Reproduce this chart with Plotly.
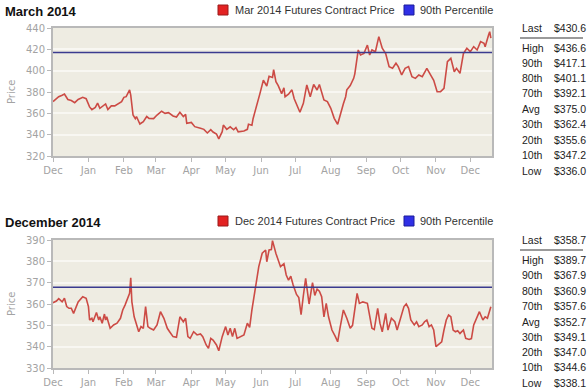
import pandas as pd
import plotly.graph_objects as go

W, H = 587, 391
BASE = pd.Timestamp("2013-12-01")

# ---- data: days since 2013-12-01 and futures prices ----
mar_days = [0, 5, 8, 10, 13, 16, 19, 22, 26, 29,
            32, 34, 37, 39, 41, 44, 46, 48, 51, 54,
            57, 60, 62, 64, 67, 68, 70, 72, 73, 76,
            79, 82, 84, 88, 91, 95, 98, 101, 105, 108,
            111, 114, 116, 117, 121, 124, 129, 132, 135, 138,
            140, 143, 145, 148, 149, 152, 155, 158, 160, 162,
            167, 170, 171, 174, 175, 178, 181, 184, 187, 189,
            192, 193, 195, 197, 200, 202, 203, 206, 209, 211,
            213, 216, 219, 222, 225, 228, 231, 233, 237, 240,
            243, 246, 249, 251, 254, 256, 257, 260, 263, 264,
            267, 269, 272, 275, 277, 279, 282, 285, 288, 291,
            294, 297, 300, 302, 305, 308, 311, 314, 317, 320,
            323, 327, 330, 333, 336, 339, 342, 345, 348, 351,
            353, 356, 359, 362, 365, 368, 371, 374, 377, 378,
            381, 382, 383]
mar_price = [371, 375.6, 377, 378, 373, 372, 370, 373, 375, 373.7,
             366, 363.5, 365.6, 369.5, 364.7, 367, 368.8, 363.5, 367, 367,
             368.8, 371, 375, 375.6, 382, 377, 358.4, 355, 357, 350,
             352.2, 357, 355.3, 355, 358.4, 362, 360, 360.6, 357.5, 356.5,
             361, 357, 359, 350.6, 351.5, 347.5, 346, 345, 341.6, 344.7,
             342.5, 340.6, 336.0, 342.8, 349, 345, 347.3, 344.6, 346.7, 342.6,
             343.5, 345, 349.7, 348.8, 355, 366, 378.5, 391, 385.6, 394.7,
             393.7, 401, 389.7, 386, 378.5, 384, 375.6, 378, 382, 373.7,
             368, 361, 369.4, 386.6, 375.6, 387, 381.9, 387, 372.5, 371,
             364.7, 355.3, 349.7, 358.4, 369, 375.6, 382, 386, 392.8, 397,
             419.4, 414.7, 416.2, 424, 414.7, 419.4, 417.7, 431.9, 421, 416,
             403.8, 402.2, 407, 403.8, 396, 402.2, 403.8, 394.4, 392.8, 396,
             394.4, 402.2, 396, 391, 380.3, 380.3, 383.4, 408.4, 411.5, 399,
             402.2, 397.5, 416, 421, 417.8, 422.5, 419.4, 427.2, 425.6, 422.5,
             433.4, 436.6, 430.6]

dec_days = [0, 3, 5, 8, 10, 12, 14, 16, 18, 19,
            22, 26, 29, 31, 32, 34, 35, 38, 40, 41,
            43, 45, 46, 47, 50, 53, 56, 59, 61, 63,
            65, 67, 68, 69, 71, 73, 75, 77, 79, 81,
            83, 85, 88, 91, 94, 97, 100, 102, 105, 108,
            111, 114, 116, 118, 120, 123, 126, 129, 131, 134,
            136, 138, 140, 143, 145, 148, 151, 153, 155, 157,
            159, 161, 164, 167, 170, 172, 174, 177, 180, 183,
            186, 187, 189, 191, 192, 195, 197, 199, 202, 204,
            206, 208, 210, 213, 215, 217, 219, 221, 224, 226,
            227, 229, 231, 233, 235, 237, 239, 241, 244, 247,
            249, 251, 254, 257, 260, 262, 264, 266, 268, 271,
            275, 278, 279, 281, 284, 286, 288, 291, 293, 296,
            299, 301, 305, 307, 309, 311, 313, 316, 318, 320,
            323, 325, 327, 329, 331, 333, 335, 337, 340, 342,
            344, 346, 348, 350, 352, 354, 356, 359, 361, 364,
            366, 368, 371, 373, 376, 378, 380, 383]
dec_price = [360.6, 361.4, 362.5, 361, 362.7, 358.8, 358, 358, 355.6, 357.2,
             361, 363.4, 362.7, 358.8, 352.5, 353.3, 351.7, 356, 352.5, 354,
             351, 355.3, 352.5, 354, 348.6, 350.2, 351, 353.3, 357.2, 359.5,
             361.9, 365, 372.3, 361, 354, 351, 347, 349.4, 348.6, 358.8,
             349.4, 348.6, 347.8, 350.2, 356.4, 353.3, 348.6, 347, 344.7, 344.4,
             354, 351.7, 353.3, 344.7, 343.9, 347, 345.5, 346, 344.7, 340.8,
             339.2, 343.9, 343.1, 340.8, 338.1, 344.7, 349.4, 345.5, 348.6, 344.7,
             348.6, 343.9, 344.7, 345.5, 351, 349, 357.2, 366.6, 377.5, 383.8,
             385.3, 379.8, 385.3, 385.5, 389.7, 383.7, 381, 377.5, 378.9, 373.6,
             371.2, 373, 369, 364.5, 363, 355, 364, 372, 360, 367,
             370, 364, 367, 366, 363.4, 354, 360.3, 354, 347.8, 344.7,
             342.3, 348.6, 357.2, 353.3, 348.6, 350, 358.8, 365, 360.3, 361,
             360.3, 352.5, 348.6, 348, 358, 351, 347, 355.6, 347.8, 353.3,
             351.7, 347.8, 354.8, 358.8, 360, 358, 352.5, 350.2, 351.7, 349.4,
             350.2, 351.7, 352.5, 349.4, 350.2, 347.8, 340, 340.8, 342.3, 347.8,
             352.5, 354.8, 354, 347.8, 347, 347.5, 346.2, 347.8, 343.9, 343.4,
             343.8, 350.2, 354, 356.4, 352.5, 354, 353.3, 358.7]

stat_labels = ["Last", "High", "90th", "80th", "70th", "Avg", "30th", "20th", "10th", "Low"]
mar_stats = [430.6, 436.6, 417.1, 401.1, 392.1, 375.0, 362.4, 355.6, 347.2, 336.0]
dec_stats = [358.7, 389.7, 367.9, 360.9, 357.6, 352.7, 349.1, 347.0, 344.6, 338.1]

assert len(mar_days) == len(mar_price)
assert len(dec_days) == len(dec_price)

# ---- styling / layout (pixel geometry) ----
PLOT_L, PLOT_R = 53, 492
FONT = "Liberation Sans, Arial, sans-serif"
TICKFONT = dict(family="DejaVu Sans, Verdana, sans-serif", size=10, color="#a3a3a3")
RED = "#cc4b45"
NAVY = "#3b3b8f"
BG = "#eeece2"
GRID = "#f8f7f2"
AXLINE = "#b9b9b9"


def px_x(p):
    return p / W


def px_y(p):
    return 1 - p / H


panels = [
    dict(title="March 2014", name="Mar 2014 Futures Contract Price", days=mar_days, price=mar_price,
         stats=mar_stats, yrange=[320, 440], dtick=20, top=28, bottom=156, head=11,
         rows=[28.5, 47.5, 62.5, 78, 93.5, 109, 124, 139.5, 154.5, 171], rule=38),
    dict(title="December 2014", name="Dec 2014 Futures Contract Price", days=dec_days, price=dec_price,
         stats=dec_stats, yrange=[330, 390], dtick=10, top=240, bottom=368, head=222,
         rows=[240, 260, 275, 290.5, 305.5, 321.5, 336.5, 351.5, 367, 383], rule=250),
]

fig = go.Figure()
annotations = []
shapes = []
x_end = BASE + pd.Timedelta(days=384)

for i, p in enumerate(panels):
    sfx = "" if i == 0 else str(i + 1)
    xa, ya = "x" + sfx, "y" + sfx
    dates = BASE + pd.to_timedelta(p["days"], unit="D")
    fig.add_trace(go.Scatter(x=dates, y=p["price"], mode="lines", name=p["name"],
                             line=dict(color=RED, width=1.6), xaxis=xa, yaxis=ya,
                             showlegend=False, hoverinfo="x+y"))
    p90 = p["stats"][2]
    fig.add_trace(go.Scatter(x=[BASE, x_end], y=[p90, p90], mode="lines", name="90th Percentile",
                             line=dict(color=NAVY, width=1.5), xaxis=xa, yaxis=ya,
                             showlegend=False, hoverinfo="skip"))

    common_x = dict(domain=[px_x(PLOT_L), px_x(PLOT_R)], type="date", automargin=False,
                    range=[BASE, x_end], tick0=BASE, dtick="M1", tickformat="%b",
                    ticks="outside", ticklen=4, tickcolor=AXLINE, tickwidth=1,
                    showline=True, linecolor=AXLINE, linewidth=2, mirror=True,
                    showgrid=False, zeroline=False, tickfont=TICKFONT,
                    anchor=ya, fixedrange=True)
    common_y = dict(domain=[px_y(p["bottom"]), px_y(p["top"])], range=p["yrange"], automargin=False,
                    dtick=p["dtick"], ticks="outside", ticklen=4, tickcolor=AXLINE,
                    showline=True, linecolor=AXLINE, linewidth=2, mirror=True,
                    showgrid=True, gridcolor=GRID, gridwidth=2, zeroline=False,
                    tickfont=TICKFONT, anchor=xa, fixedrange=True)
    fig.update_layout({"xaxis" + sfx: common_x, "yaxis" + sfx: common_y})

    # panel heading
    annotations.append(dict(text="<b>%s</b>" % p["title"], x=px_x(3), y=px_y(p["head"]),
                            xref="paper", yref="paper", xanchor="left", yanchor="middle",
                            showarrow=False, font=dict(family=FONT, size=13, color="#111111")))
    # y-axis title
    annotations.append(dict(text="Price", x=px_x(11), y=px_y((p["top"] + p["bottom"]) / 2),
                            xref="paper", yref="paper", xanchor="center", yanchor="middle",
                            textangle=-90, showarrow=False,
                            font=dict(family="DejaVu Sans, sans-serif", size=10, color="#a3a3a3")))
    # legend
    hy = p["head"] - 1
    for sx, tx, col, txt in [(218, 233, "#e32222", p["name"]), (404, 418, "#2f2fe6", "90th Percentile")]:
        shapes.append(dict(type="rect", xref="paper", yref="paper",
                           x0=px_x(sx), x1=px_x(sx + 10), y0=px_y(hy + 5), y1=px_y(hy - 5),
                           fillcolor=col, line=dict(color="#9a1a1a" if col == "#e32222" else "#1c1c9a", width=1)))
        annotations.append(dict(text=txt, x=px_x(tx), y=px_y(hy), xref="paper", yref="paper",
                                xanchor="left", yanchor="middle", showarrow=False,
                                font=dict(family=FONT, size=11, color="#333333")))
    # stats table
    for lab, val, ry in zip(stat_labels, p["stats"], p["rows"]):
        annotations.append(dict(text=lab, x=px_x(520), y=px_y(ry), xref="paper", yref="paper",
                                xanchor="left", yanchor="middle", showarrow=False,
                                font=dict(family=FONT, size=10.5, color="#222222")))
        annotations.append(dict(text="$%.1f" % val, x=px_x(552), y=px_y(ry), xref="paper", yref="paper",
                                xanchor="left", yanchor="middle", showarrow=False,
                                font=dict(family=FONT, size=10.5, color="#222222")))
    shapes.append(dict(type="line", xref="paper", yref="paper", x0=px_x(520), x1=px_x(583),
                       y0=px_y(p["rule"]), y1=px_y(p["rule"]), line=dict(color="#9a9a9a", width=2)))

fig.update_layout(width=W, height=H, margin=dict(l=0, r=0, t=0, b=0),
                  paper_bgcolor="white", plot_bgcolor=BG, showlegend=False,
                  annotations=annotations, shapes=shapes,
                  font=dict(family=FONT))
fig.write_html("out.html", config={"displayModeBar": False},
               post_script="document.body.style.margin='0px';document.body.style.overflow='hidden';")
